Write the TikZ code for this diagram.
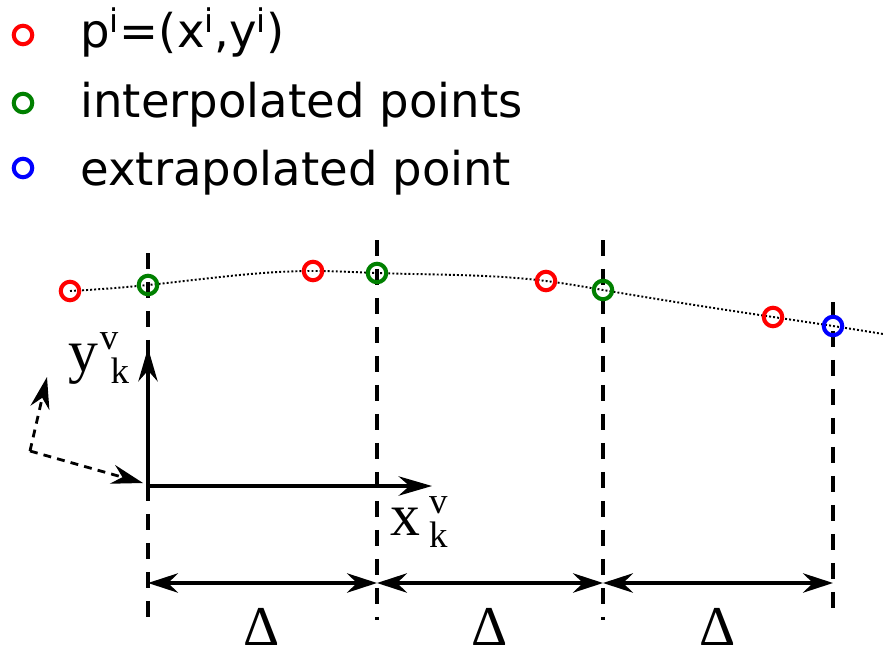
\documentclass[tikz,border=0pt]{standalone}
\usepackage{fontspec}
\setmainfont{DejaVu Sans}
\newfontfamily\lblfont{Liberation Serif}
\usetikzlibrary{arrows.meta, hobby}
\newcommand{\frlabel}[3]{#1\kern#2{\fontsize{21}{23}\selectfont\rlap{\raisebox{12pt}{v}}\kern#3\raisebox{-7pt}{k}}}
\tikzset{pt/.style={circle,draw,line width=2.3pt,minimum size=0.37cm,inner sep=0pt},
  gridline/.style={line width=2pt,dash pattern=on 9pt off 7.5pt},
  axis/.style={line width=2pt,-{Stealth[length=19pt,width=11pt]}},
  moved/.style={line width=1.6pt,dash pattern=on 4.5pt off 3.5pt,-{Stealth[length=18pt,width=11pt]}},
  dim/.style={line width=2pt,{Stealth[length=17pt,width=11pt]}-{Stealth[length=17pt,width=11pt]}},
  legend/.style={anchor=base west,inner sep=0pt,font=\fontsize{26.5}{30}\selectfont},
  lbl/.style={anchor=base west,inner sep=0pt,font=\lblfont\fontsize{34}{36}\selectfont},
  curve/.style={line width=1.1pt,dash pattern=on 1.1pt off 1.2pt}}

\begin{document}
\begin{tikzpicture}[x=0.02cm,y=-0.02cm]
\useasboundingbox (0,0) rectangle (883,649);
% legend
\node[pt,red] (lr) at (23,35) {};
\node[pt,green!50!black] (lg) at (23,103) {};
\node[pt,blue] (lb) at (23,168) {};
\node[legend] (tr) at (80,48) {p\textsuperscript{i}=(x\textsuperscript{i},y\textsuperscript{i})};
\node[legend] (tg) at (80,117) {interpolated points};
\node[legend] (tb) at (80,185) {extrapolated point};
% time steps
\foreach \x/\t [count=\i] in {148/253,377/240,603/240,833/302} {
  \coordinate (top\i) at (\x,\t);
  \coordinate (bot\i) at (\x,620);
  \coordinate (dim\i) at (\x,583);
  \draw[gridline] (top\i) -- (bot\i);
}
\draw[dim] (dim1) -- (dim2);
\draw[dim] (dim2) -- (dim3);
\draw[dim] (dim3) -- (dim4);
\node[lbl,anchor=base,font=\lblfont\fontsize{32}{34}\selectfont] (d1) at (262,645) {Δ};
\node[lbl,anchor=base,font=\lblfont\fontsize{32}{34}\selectfont] (d2) at (490,645) {Δ};
\node[lbl,anchor=base,font=\lblfont\fontsize{32}{34}\selectfont] (d3) at (718,645) {Δ};
% trajectory
\coordinate (c1) at (70,291);
\coordinate (c2) at (148,285);
\coordinate (c3) at (313,271);
\coordinate (c4) at (377,273);
\coordinate (c5) at (546,281);
\coordinate (c6) at (603,290);
\coordinate (c7) at (773,317);
\coordinate (c8) at (833,326);
\coordinate (c9) at (883,334);
\draw[curve,use Hobby shortcut] (c1) .. (c2) .. (c3) .. (c4) .. (c5) .. (c6) .. (c7) .. (c8) .. (c9);
\node[pt,red] (p1) at (c1) {};
\node[pt,green!50!black] (q1) at (c2) {};
\node[pt,red] (p2) at (c3) {};
\node[pt,green!50!black] (q2) at (c4) {};
\node[pt,red] (p3) at (c5) {};
\node[pt,green!50!black] (q3) at (c6) {};
\node[pt,red] (p4) at (c7) {};
\node[pt,blue] (e1) at (c8) {};
% vehicle frame
\coordinate (o) at (148,486);
\coordinate (ox) at (432,486);
\coordinate (oy) at (148,348);
\draw[axis] (o) -- (ox);
\draw[axis] (o) -- (oy);
\node[lbl] (xl) at (390,535) {\frlabel{x}{5pt}{0pt}};
\node[lbl] (yl) at (68,371) {\frlabel{y}{1pt}{6pt}};
\coordinate (m) at (30,451);
\coordinate (my) at (47,377);
\coordinate (mx) at (143,483);
\draw[moved] (m) -- (my);
\draw[moved] (m) -- (mx);
\end{tikzpicture}
\end{document}
